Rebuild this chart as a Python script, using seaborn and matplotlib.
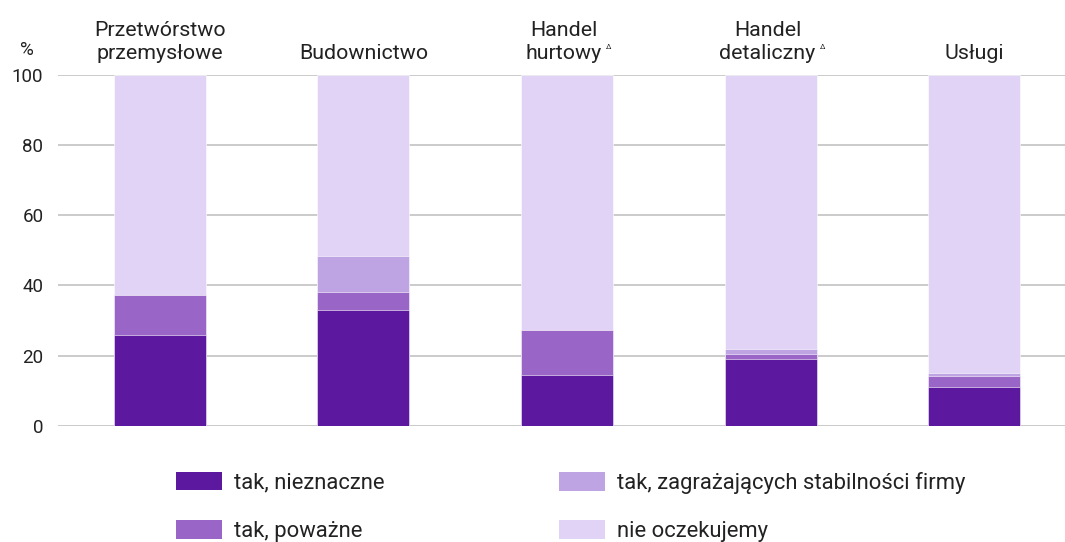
import matplotlib
matplotlib.use("Agg")
import matplotlib.pyplot as plt
import seaborn as sns
import pandas as pd
import numpy as np
from matplotlib.patches import Patch

categories = ["Przetwórstwo\nprzemysłowe", "Budownictwo", "Handel\nhurtowy", "Handel\ndetaliczny", "Usługi"]
marked = [False, False, True, True, False]
series_names = ["tak, nieznaczne", "tak, poważne", "tak, zagrażających stabilności firmy", "nie oczekujemy"]
nieznaczne = [26.0, 33.1, 14.6, 19.1, 11.2]
powazne = [11.4, 4.9, 12.7, 1.5, 3.1]
zagrazajace = [0.0, 10.5, 0.0, 1.3, 0.9]
nie_oczekujemy = [62.6, 51.5, 72.7, 78.1, 84.8]
yticks = [0, 20, 40, 60, 80, 100]

colors = ["#5C189E", "#9966C8", "#BFA4E3", "#E1D3F5"]

sns.set_theme(style="white")
plt.rcParams["font.family"] = ["Roboto", "DejaVu Sans"]
FS_TICK = 13.5
FS_CAT = 15.4
FS_LEG = 15.8
TXT = "#222222"

fig = plt.figure(figsize=(10.65, 5.42), dpi=100)
ax = fig.add_axes([58/1065, (542-426)/542, (1065-58)/1065, (426-74.5)/542])

series = [nieznaczne, powazne, zagrazajace, nie_oczekujemy]
cum = np.cumsum(np.array(series), axis=0)
ids = list(range(len(categories)))
for i in range(len(series) - 1, -1, -1):
    df = pd.DataFrame({"cat": ids, "val": cum[i]})
    sns.barplot(data=df, x="cat", y="val", color=colors[i], width=0.452,
                saturation=1, ax=ax, edgecolor="white", linewidth=0.4, zorder=3)

ax.set_xlim(-0.501, 4.447)
ax.set_ylim(0, 100)
ax.set_yticks(yticks)
ax.set_yticklabels([str(t) for t in yticks], fontsize=FS_TICK, color=TXT)
ax.tick_params(axis="y", length=0, pad=10.5)
ax.set_xticks([])
ax.set_xlabel("")
ax.set_ylabel("")
ax.grid(axis="y", color="#BDBDBD", linewidth=1.1, zorder=0)
ax.set_axisbelow(True)
for s in ax.spines.values():
    s.set_visible(False)

for i, c in enumerate(categories):
    xoff = -3 if marked[i] else 0
    t = ax.annotate(c, xy=(i, 103.3), xycoords="data", xytext=(xoff, 0),
                    textcoords="offset pixels", ha="center", va="bottom",
                    fontsize=FS_CAT, color=TXT, annotation_clip=False,
                    linespacing=1.25)
    if marked[i]:
        ax.annotate("Δ", xy=(1, 0), xycoords=t, xytext=(4, 13),
                    textcoords="offset pixels", ha="left", va="bottom",
                    fontsize=5.5, color=TXT, annotation_clip=False)

ax.text(-0.654, 106.9, "%", ha="center", va="center", fontsize=FS_TICK, color=TXT,
        clip_on=False)

handles = [Patch(facecolor=c, edgecolor="none") for c in colors]
common = dict(frameon=False, fontsize=FS_LEG, handlelength=2.1, handleheight=0.91,
              handletextpad=0.55, labelspacing=1.2, borderpad=0, borderaxespad=0,
              labelcolor=TXT)
leg1 = fig.legend(handles[:2], series_names[:2], loc="center left",
                  bbox_to_anchor=(176/1065, (542-507)/542), **common)
leg2 = fig.legend(handles[2:], series_names[2:], loc="center left",
                  bbox_to_anchor=(559/1065, (542-507)/542), **common)

fig.savefig("out.png", dpi=100)
